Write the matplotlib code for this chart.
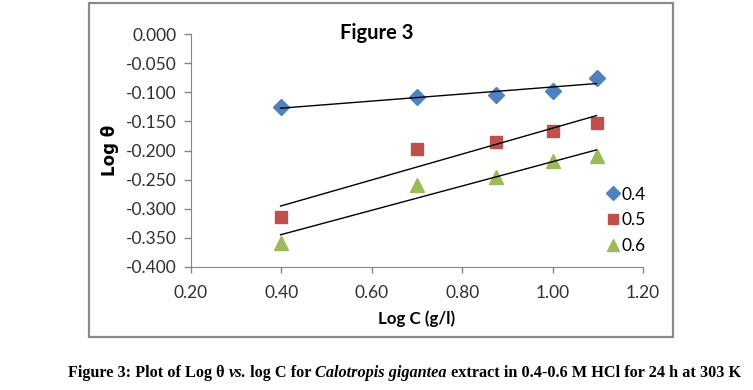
import numpy as np
import matplotlib
matplotlib.use("Agg")
import matplotlib.pyplot as plt
from matplotlib.patches import Rectangle

plt.rcParams['font.family'] = ['Lato', 'DejaVu Sans']

log_c = [0.398, 0.699, 0.875, 1.000, 1.097]
series_labels = ['0.4', '0.5', '0.6']
log_theta_04 = [-0.125, -0.108, -0.105, -0.098, -0.075]
log_theta_05 = [-0.314, -0.197, -0.185, -0.167, -0.152]
log_theta_06 = [-0.358, -0.259, -0.245, -0.218, -0.210]
x_ticks = [0.2, 0.4, 0.6, 0.8, 1.0, 1.2]
y_ticks = [-0.4, -0.35, -0.3, -0.25, -0.2, -0.15, -0.1, -0.05, 0.0]

colors = ['#4F81BD', '#C0504D', '#9BBB59']
markers = ['D', 's', '^']
sizes = [8.5, 9, 10.5]

fig = plt.figure(figsize=(7.53, 3.90), dpi=100)
ax = fig.add_axes([0.2537, 0.3154, 0.6003, 0.5974])

# outer chart frame
fig.patches.append(Rectangle((0.1182, 0.1359), 0.7756, 0.8564, transform=fig.transFigure,
                             fill=False, edgecolor='#8a8a8a', linewidth=1.6))

x = np.array(log_c)
for ys, lab, c, m, s in zip([log_theta_04, log_theta_05, log_theta_06], series_labels, colors, markers, sizes):
    ys = np.array(ys)
    ax.plot(x, ys, linestyle='none', marker=m, color=c, markersize=s, label=lab, zorder=3)
    k, b = np.polyfit(x, ys, 1)
    ax.plot(x[[0, -1]], k * x[[0, -1]] + b, color='black', linewidth=1.0, zorder=4)

ax.set_xlim(0.2, 1.2)
ax.set_ylim(-0.4, 0.0)
ax.set_xticks(x_ticks)
ax.set_yticks(y_ticks)
ax.set_xticklabels([f'{v:.2f}' for v in x_ticks])
ax.set_yticklabels([f'{abs(v):.3f}' if v == 0 else f'{v:.3f}' for v in y_ticks])
for sp in ['top', 'right']:
    ax.spines[sp].set_visible(False)
for sp in ['left', 'bottom']:
    ax.spines[sp].set_color('#868686')
ax.tick_params(axis='both', colors='#868686', labelcolor='#303030', labelsize=12.5, width=1)
ax.tick_params(axis='x', pad=9, length=4)
ax.tick_params(axis='y', pad=5.5, length=5)

ax.set_xlabel('Log C (g/l)', fontsize=12.2, fontweight='bold', labelpad=7)
ax.set_ylabel('Log θ', fontsize=12, fontweight='bold', family=['DejaVu Sans'])
ax.yaxis.set_label_coords(-0.16, 0.5)
fig.text(0.452, 0.940, 'Figure 3', fontsize=14.5, fontweight='bold', ha='left', va='top')

ax.legend(loc='upper left', bbox_to_anchor=(0.905, 0.375), frameon=False, fontsize=12.5,
          handlelength=0.7, handletextpad=0.15, labelspacing=0.55, borderaxespad=0,
          markerscale=0.8)

# caption with mixed bold / italic pieces
pieces = [('Figure 3: Plot of Log θ ', 'normal'), ('vs.', 'italic'), (' log C for ', 'normal'),
          ('Calotropis gigantea', 'italic'), (' extract in 0.4-0.6 M HCl for 24 h at 303 K', 'normal')]
prev = None
for txt, style in pieces:
    kw = dict(fontsize=11.7, fontweight='bold', style=style, family=['Liberation Serif'],
              ha='left', va='bottom')
    if prev is None:
        prev = fig.text(0.09, 0.023, txt, **kw)
    else:
        prev = plt.annotate(txt, xy=(1, 0), xycoords=prev, annotation_clip=False, **kw)

fig.savefig('out.png', dpi=100)
